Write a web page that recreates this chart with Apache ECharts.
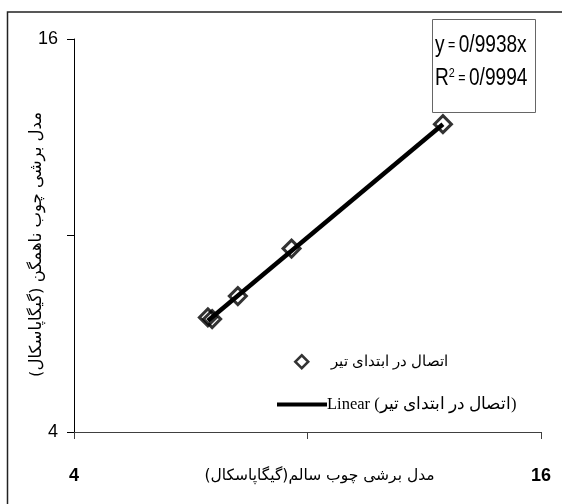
<!DOCTYPE html>
<html>
<head>
<meta charset="utf-8">
<script src="https://cdn.jsdelivr.net/npm/echarts@6/dist/echarts.min.js"></script>
<style>
  html, body { margin: 0; padding: 0; background: #fff; }
  #chart { width: 562px; height: 504px; }
</style>
</head>
<body>
<div id="chart"></div>
<script>
// Shear modulus: sound wood (x) vs. non-homogeneous wood (y), GPa
const soundModulus = [7.44, 7.55, 8.21, 9.59, 13.48];
const mixedModulus = [7.50, 7.45, 8.15, 9.60, 13.40];

// Fitted trend through the origin
const trendSlope = 0.9938;
const equationText = 'y = 0/9938x';
const rSquaredText = '0/9994';

const axisMin = 4;
const axisMax = 16;
const axisStep = 6;
const shownTicks = [4, 16];

const scatterName = 'اتصال در ابتدای تیر';
const trendName = 'Linear (اتصال در ابتدای تیر)';
const xTitle = 'مدل برشی چوب سالم(گیگاپاسکال)';
const yTitle = 'مدل برشی چوب ناهمگن (گیگاپاسکال)';

const points = soundModulus.map((x, i) => [x, mixedModulus[i]]);
const xLo = Math.min(...soundModulus);
const xHi = Math.max(...soundModulus);
const trendPoints = [[xLo, trendSlope * xLo], [xHi, trendSlope * xHi]];

const plain = '"Liberation Sans", Arial, sans-serif';
const serif = '"Liberation Serif", "DejaVu Serif", serif';
const arabicSans = '"DejaVu Sans", sans-serif';

const chart = echarts.init(document.getElementById('chart'), null, { renderer: 'canvas' });

chart.setOption({
  animation: false,
  backgroundColor: '#fff',
  grid: { left: 74, top: 39, right: 21, bottom: 72 },
  xAxis: {
    type: 'value',
    min: axisMin, max: axisMax, interval: axisStep,
    splitLine: { show: false },
    axisLine: { lineStyle: { color: '#404040', width: 1 } },
    axisTick: { inside: false, length: 7, lineStyle: { color: '#404040' } },
    axisLabel: {
      margin: 35,
      fontFamily: plain, fontSize: 18, fontWeight: 'bold', color: '#000',
      formatter: v => shownTicks.includes(v) ? String(v) : ''
    },
    name: xTitle,
    nameLocation: 'middle',
    nameGap: 36,
    nameMoveOverlap: false,
    nameTextStyle: { fontFamily: arabicSans, fontSize: 15.5, color: '#000', padding: [0, 0, 0, 24] }
  },
  yAxis: {
    type: 'value',
    min: axisMin, max: axisMax, interval: axisStep,
    splitLine: { show: false },
    axisLine: { lineStyle: { color: '#000', width: 1 } },
    axisTick: { inside: false, length: 7, lineStyle: { color: '#000' } },
    axisLabel: {
      margin: 16,
      fontFamily: plain, fontSize: 18, color: '#000',
      formatter: v => shownTicks.includes(v) ? String(v) : ''
    },
    name: yTitle,
    nameLocation: 'middle',
    nameRotate: 90,
    nameGap: 29,
    nameMoveOverlap: false,
    nameTextStyle: { fontFamily: arabicSans, fontSize: 16.5, color: '#000', padding: [0, 18, 0, 0] }
  },
  legend: [
    {
      data: [scatterName],
      left: 289, top: 349,
      itemWidth: 13, itemHeight: 13,
      icon: 'diamond',
      itemStyle: { color: '#fff', borderColor: '#000', borderWidth: 2.5 },
      textStyle: { fontFamily: serif, fontSize: 15, color: '#000', padding: [0, 0, 0, 18] },
      selectedMode: false
    },
    {
      data: [trendName],
      left: 272, top: 391,
      itemWidth: 50, itemHeight: 4,
      itemGap: 0,
      icon: 'rect',
      itemStyle: { color: '#000', borderWidth: 0 },
      textStyle: { fontFamily: serif, fontSize: 16.5, color: '#000', padding: [0, 0, 0, -5] },
      selectedMode: false
    }
  ],
  series: [
    {
      name: trendName,
      type: 'line',
      data: trendPoints,
      symbol: 'none',
      lineStyle: { color: '#000', width: 4.5 },
      itemStyle: { color: '#000' },
      z: 2
    },
    {
      name: scatterName,
      type: 'scatter',
      data: points,
      symbol: 'diamond',
      symbolSize: 17,
      itemStyle: { color: 'rgba(255,255,255,0)', borderColor: '#000', borderWidth: 3 },
      z: 3
    }
  ],
  graphic: [
    {
      type: 'rect',
      shape: { x: 7.5, y: 12, width: 700, height: 700 },
      style: { fill: 'none', stroke: '#222', lineWidth: 1.5 },
      silent: true
    },
    {
      type: 'rect',
      shape: { x: 432.5, y: 19.5, width: 103, height: 93 },
      style: { fill: '#fff', stroke: '#666', lineWidth: 1 },
      z: 10
    },
    {
      type: 'text',
      x: 435, y: 34,
      scaleX: 0.83,
      z: 11,
      style: {
        text: '{b|y}{s| = }{b|' + equationText.split('= ')[1] + '}',
        rich: {
          b: { fontFamily: plain, fontSize: 23, fill: '#000' },
          s: { fontFamily: plain, fontSize: 15, fill: '#000' }
        }
      }
    },
    {
      type: 'text',
      x: 435, y: 67,
      scaleX: 0.83,
      z: 11,
      style: {
        text: '{b|R}{u|2}{s| = }{b|' + rSquaredText + '}',
        rich: {
          b: { fontFamily: plain, fontSize: 23, fill: '#000' },
          u: { fontFamily: plain, fontSize: 13, fill: '#000', verticalAlign: 'top', padding: [0, 0, 10, 0] },
          s: { fontFamily: plain, fontSize: 15, fill: '#000' }
        }
      }
    }
  ]
});
</script>
</body>
</html>
